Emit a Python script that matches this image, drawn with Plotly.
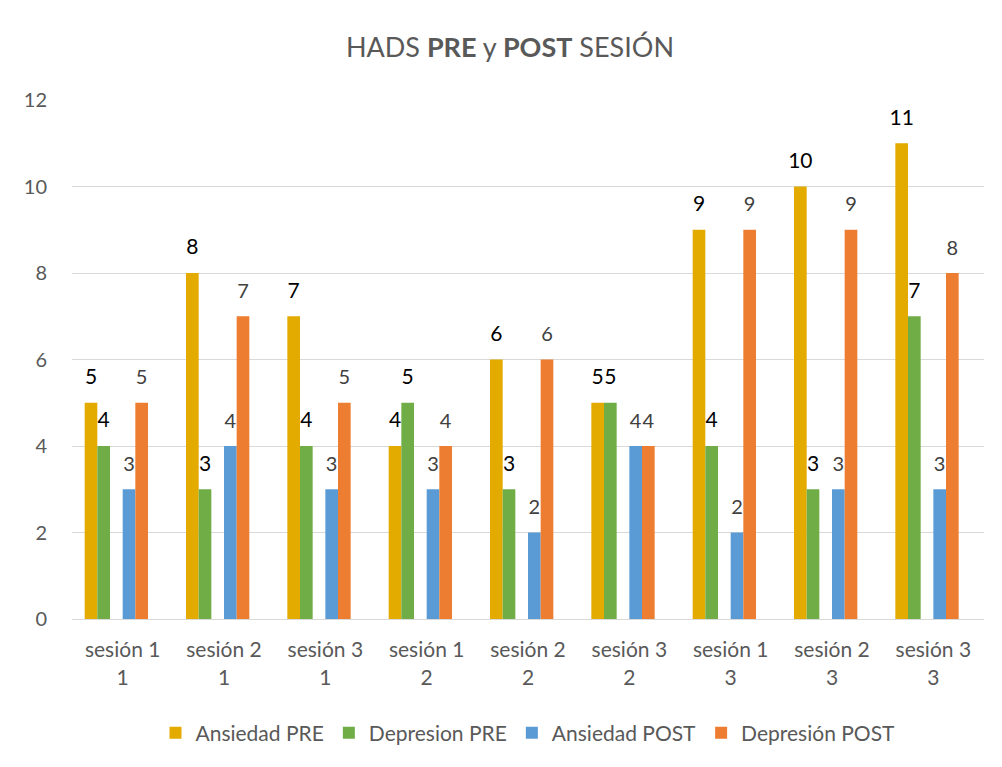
import plotly.graph_objects as go

# categorias del eje x (dos lineas: sesion / paciente)
categorias = ["sesión 1<br>1", "sesión 2<br>1", "sesión 3<br>1",
              "sesión 1<br>2", "sesión 2<br>2", "sesión 3<br>2",
              "sesión 1<br>3", "sesión 2<br>3", "sesión 3<br>3"]

ansiedad_pre = [5, 8, 7, 4, 6, 5, 9, 10, 11]
depresion_pre = [4, 3, 4, 5, 3, 5, 4, 3, 7]
ansiedad_post = [3, 4, 3, 3, 2, 4, 2, 3, 3]
depresion_post = [5, 7, 5, 4, 6, 4, 9, 9, 8]

y_ticks = [0, 2, 4, 6, 8, 10, 12]

fuente = "Lato"
gris = "#595959"
ancho = 0.125
idx = list(range(len(categorias)))

# nombre, valores, color, desplazamiento dentro del grupo, color y tamaño de la etiqueta
series = [
    ("Ansiedad PRE", ansiedad_pre, "#E3AA00", -0.375, "#000000", 21),
    ("Depresion PRE", depresion_pre, "#70AD47", -0.25, "#000000", 21),
    ("Ansiedad POST", ansiedad_post, "#5B9BD5", 0.0, "#404040", 20),
    ("Depresión POST", depresion_post, "#ED7D31", 0.125, "#404040", 20),
]

fig = go.Figure()

for nombre, valores, color, desp, color_txt, tam_txt in series:
    fig.add_trace(go.Bar(x=idx, y=valores, name=nombre, width=ancho, offset=desp,
                         marker=dict(color=color, line=dict(width=0))))

for nombre, valores, color, desp, color_txt, tam_txt in series:
    fig.add_trace(go.Scatter(x=[i + desp + ancho / 2 for i in idx], y=valores,
                             mode="markers+text", text=[str(v) for v in valores],
                             textposition="top center",
                             textfont=dict(family=fuente, size=tam_txt, color=color_txt),
                             marker=dict(size=20, color="rgba(0,0,0,0)"),
                             showlegend=False, hoverinfo="skip"))

# la pagina deja 8px de margen arriba y a la izquierda
fig.update_layout(
    width=994, height=759,
    paper_bgcolor="white", plot_bgcolor="white",
    margin=dict(l=64, r=18, t=92, b=148),
    title=dict(text="HADS <b>PRE</b> y <b>POST</b> SESIÓN", x=0.505, xanchor="center",
               y=1 - 40 / 759, yanchor="middle",
               font=dict(family=fuente, size=27, color=gris)),
    font=dict(family=fuente, color=gris),
    legend=dict(orientation="h", x=0.5, xanchor="center", y=-0.22, yanchor="middle",
                font=dict(family=fuente, size=21, color=gris), traceorder="normal"),
    showlegend=True,
)

fig.update_xaxes(range=[-0.5, len(categorias) - 0.5], tickvals=idx, ticktext=categorias,
                 showgrid=False, zeroline=False, showline=True, linecolor="#D9D9D9",
                 linewidth=1.3, ticks="", ticklabelstandoff=12,
                 tickfont=dict(family=fuente, size=21, color=gris))
fig.update_yaxes(range=[0, 12], tickvals=y_ticks, showgrid=True, gridcolor="#D9D9D9",
                 gridwidth=1.3, zeroline=False, ticks="", ticklabelstandoff=24,
                 tickfont=dict(family=fuente, size=20, color=gris))

fig.write_html("out.html")
